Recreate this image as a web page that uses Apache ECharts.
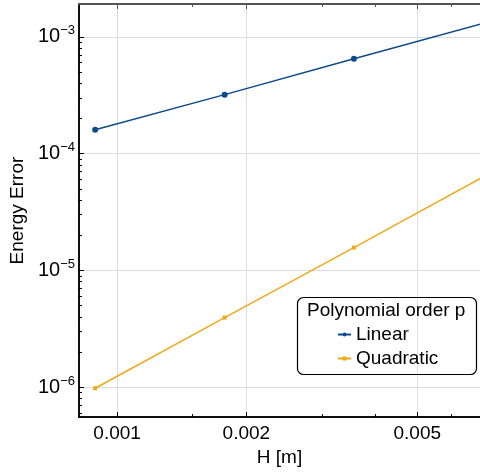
<!DOCTYPE html>
<html>
<head>
<meta charset="utf-8">
<script src="https://cdn.jsdelivr.net/npm/echarts@6/dist/echarts.min.js"></script>
<style>
  html, body { margin: 0; padding: 0; background: #fff; }
  #main { width: 480px; height: 472px; }
</style>
</head>
<body>
<div id="main"></div>
<script>
// mesh size H [m]
var hValues = [0.000889, 0.00178, 0.00356, 0.00711];
// energy error per polynomial order
var linearErr = [1.6e-4, 3.2e-4, 6.5e-4, 1.3e-3];
var quadErr = [9.8e-7, 3.95e-6, 1.57e-5, 6.3e-5];

var xMajor = [0.001, 0.002, 0.005];
var xMinor = [0.0015, 0.003, 0.004, 0.006, 0.007];
var yMajor = [1e-6, 1e-5, 1e-4, 1e-3];
var yMinor = [];
[1e-7, 1e-6, 1e-5, 1e-4, 1e-3].forEach(function (d) {
	for (var k = 2; k <= 9; k++) { yMinor.push(k * d); }
});

var font = 'Liberation Sans, Arial, sans-serif';
var xMin = 0.000815, xMax = 0.0070;
var yMin = 5.55e-7, yMax = 1.91e-3;

function pairs(xs, ys) {
	var out = [];
	for (var i = 0; i < xs.length; i++) { out.push([xs[i], ys[i]]); }
	return out;
}

function xAxisDef(pos, ticks, len, main) {
	return {
		type: 'log', logBase: 10, position: pos, min: xMin, max: xMax,
		axisLine: { show: true, onZero: false, lineStyle: { color: pos == 'top' ? '#555' : '#000', width: pos == 'top' ? 2 : 1.5 } },
		axisTick: { show: true, inside: true, length: len, customValues: ticks, lineStyle: { color: pos == 'top' ? '#555' : '#000', width: 1 } },
		axisLabel: { show: main && pos == 'bottom', customValues: ticks, fontFamily: font, fontSize: 19, color: '#000', margin: 7,
			formatter: function (v) { return String(+v.toPrecision(3)); } },
		splitLine: { show: main && pos == 'bottom', lineStyle: { color: '#dcdcdc', width: 1 } },
		name: main && pos == 'bottom' ? 'H [m]' : '', nameLocation: 'middle', nameGap: 30,
		nameTextStyle: { fontFamily: font, fontSize: 19, color: '#000' }
	};
}

function yAxisDef(ticks, len, main) {
	return {
		type: 'log', logBase: 10, position: 'left', min: yMin, max: yMax,
		axisLine: { show: true, onZero: false, lineStyle: { color: '#000', width: 1.5 } },
		axisTick: { show: true, inside: true, length: len, customValues: ticks, lineStyle: { color: '#000', width: 1 } },
		axisLabel: { show: main, customValues: ticks, margin: 4,
			formatter: function (v) {
				var e = Math.round(Math.log10(v));
				return '{b|10}{s|\u2212' + (-e) + '}';
			},
			rich: {
				b: { fontFamily: font, fontSize: 20, color: '#000' },
				s: { fontFamily: font, fontSize: 13, color: '#000', padding: [0, 0, 12, 0] }
			}
		},
		splitLine: { show: main, lineStyle: { color: '#dcdcdc', width: 1 } },
		name: main ? 'Energy Error' : '', nameLocation: 'middle', nameGap: 41,
		nameTextStyle: { fontFamily: font, fontSize: 19, color: '#000' }
	};
}

var myChart = echarts.init(document.getElementById('main'));
var option = {
	animation: false,
	grid: { left: 76.5, top: 4, right: 0, bottom: 54 },
	xAxis: [
		xAxisDef('bottom', xMajor, 5, true),
		xAxisDef('bottom', xMinor, 3, false),
		xAxisDef('top', xMajor, 5, false),
		xAxisDef('top', xMinor, 3, false)
	],
	yAxis: [
		yAxisDef(yMajor, 5, true),
		yAxisDef(yMinor, 3, false)
	],
	legend: {
		orient: 'vertical', left: 332, top: 320, itemWidth: 13, itemHeight: 5, itemGap: 5,
		data: ['Linear', 'Quadratic'],
		textStyle: { fontFamily: font, fontSize: 19, color: '#000' }
	},
	graphic: [
		{ type: 'rect', shape: { x: 297.5, y: 297.5, width: 179, height: 77, r: 6 },
			style: { fill: 'none', stroke: '#000', lineWidth: 1.2 }, z: 100 },
		{ type: 'text', x: 307, y: 301, style: { text: 'Polynomial order p', fontFamily: font, fontSize: 19, fill: '#000' }, z: 100 }
	],
	series: [
		{ name: 'Linear', type: 'line', data: pairs(hValues, linearErr), color: '#0c4a8c',
			symbol: 'circle', symbolSize: 6, lineStyle: { width: 1.5 } },
		{ name: 'Quadratic', type: 'line', data: pairs(hValues, quadErr), color: '#f0a818',
			symbol: 'rect', symbolSize: 4, lineStyle: { width: 1.5 } }
	]
};
myChart.setOption(option);
</script>
</body>
</html>
